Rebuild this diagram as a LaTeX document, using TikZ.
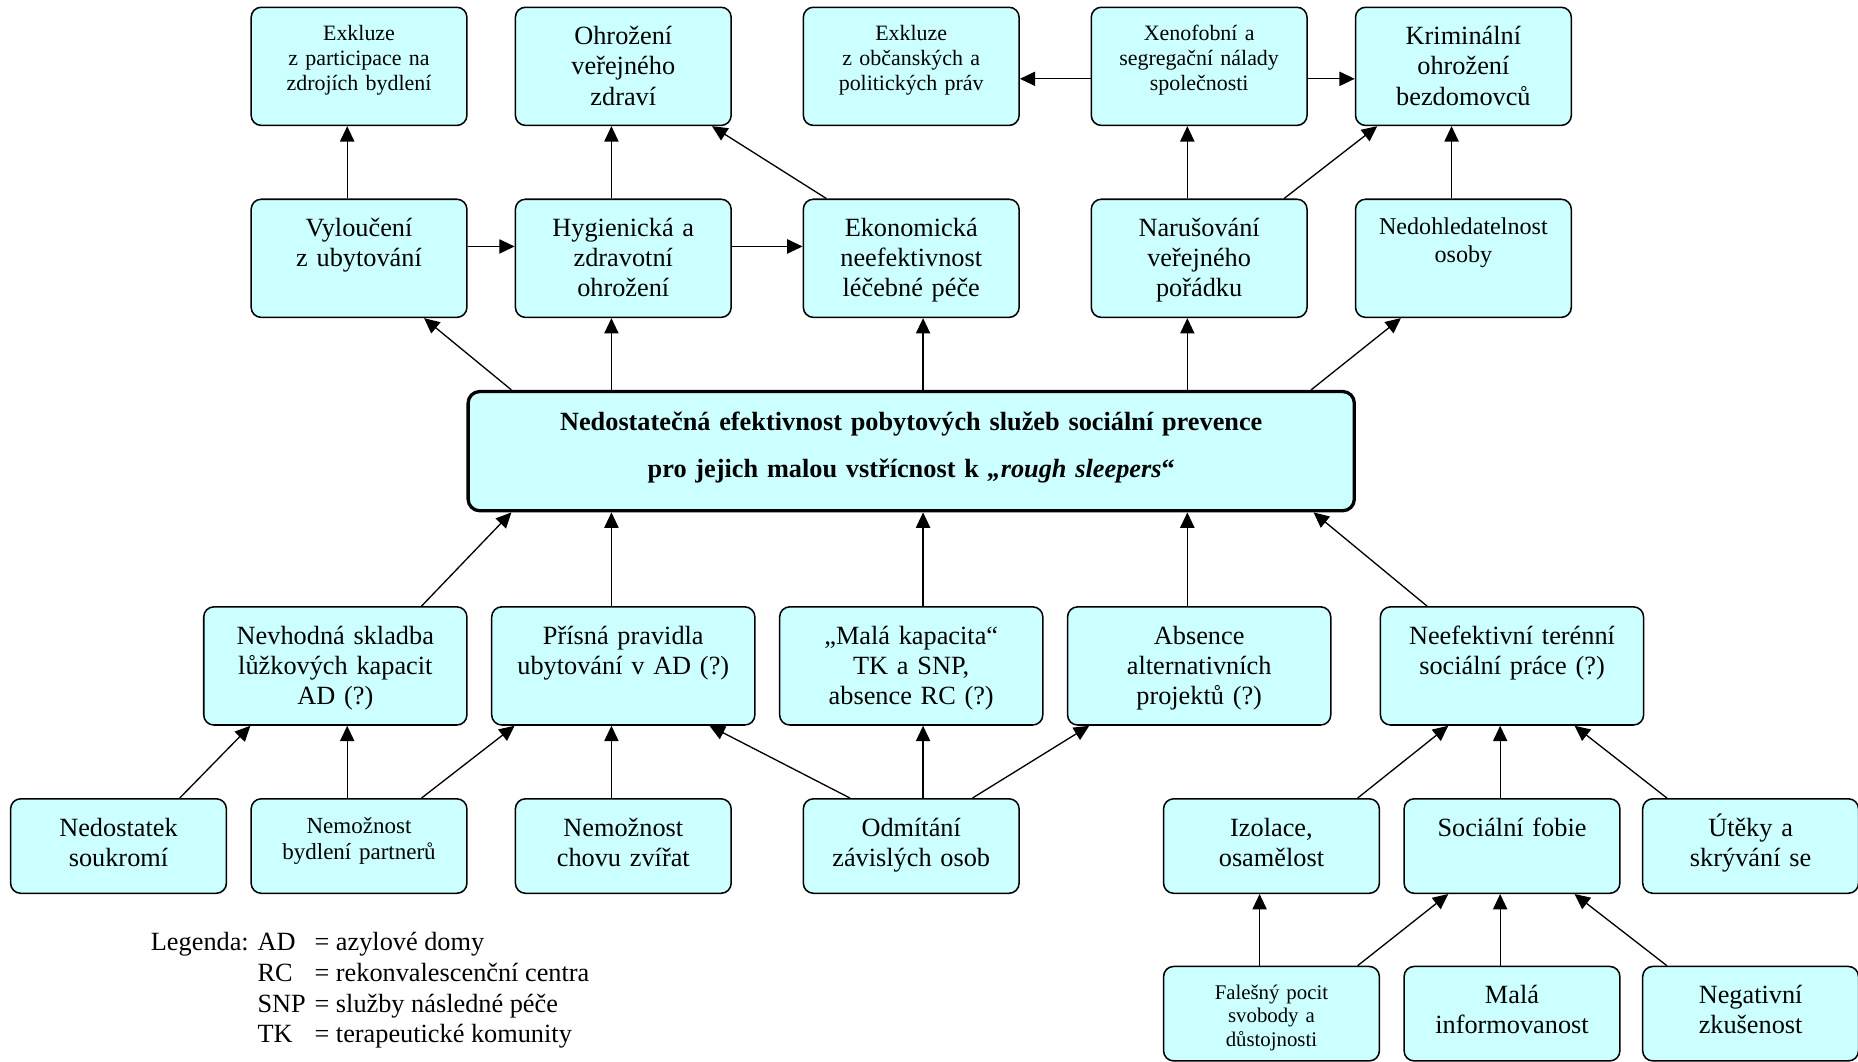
\documentclass[tikz,border=0pt]{standalone}
\usepackage{fontspec}
\setmainfont{Liberation Serif}
\usepackage{tikz}
\usetikzlibrary{arrows.meta}
\definecolor{ptcyan}{HTML}{CCFFFF}
\tikzset{
    ptbox/.style={draw, line width=0.7pt, rounded corners=4.6pt, fill=ptcyan, text width=3.3cm, inner xsep=0.08cm, inner ysep=0pt, align=center, font=\fontsize{12}{13.8}\selectfont, text height=17pt, text depth=36.9pt},
    ptwide/.style={ptbox, text width=4.06cm},
    ptlow/.style={ptbox, text depth=26.1pt},
    ptsmall/.style={font=\fontsize{10}{11.4}\selectfont, text height=15pt, text depth=38.9pt},
    ptcore/.style={draw, line width=1.5pt, rounded corners=5.3pt, fill=ptcyan, text width=14.05cm, inner xsep=0.08cm, inner ysep=0pt, align=center, font=\fontsize{12}{13.8}\selectfont\bfseries, text height=18pt, text depth=36.4pt},
    ptarrow/.style={-{Triangle[length=7pt, width=6.5pt]}, line width=0.6pt},
    ptlegend/.style={anchor=base west, inner sep=0pt, font=\fontsize{12}{14}\selectfont},
}

\begin{document}
\begin{tikzpicture}
        \useasboundingbox (0,0) rectangle (29.792,17.024);
        \node[ptbox, ptsmall] (exbyd) at (5.757,15.96) {Exkluze\\ z participace na\\ zdrojích bydlení};
        \node[ptbox] (ohr) at (9.994,15.96) {Ohrožení\\ veřejného\\ zdraví};
        \node[ptbox, ptsmall] (exprav) at (14.611,15.96) {Exkluze\\ z občanských a\\ politických práv};
        \node[ptbox, ptsmall] (xeno) at (19.228,15.96) {Xenofobní a\\ segregační nálady\\ společnosti};
        \node[ptbox] (krim) at (23.465,15.96) {Kriminální\\ ohrožení\\ bezdomovců};
        \node[ptbox] (vyl) at (5.757,12.882) {Vyloučení\\ z ubytování};
        \node[ptbox] (hyg) at (9.994,12.882) {Hygienická a\\ zdravotní\\ ohrožení};
        \node[ptbox] (ekon) at (14.611,12.882) {Ekonomická\\ neefektivnost\\ léčebné péče};
        \node[ptbox] (nar) at (19.228,12.882) {Narušování\\ veřejného\\ pořádku};
        \node[ptbox, font=\fontsize{11}{12.4}\selectfont, text height=16.3pt, text depth=37.6pt] (nedoh) at (23.465,12.882) {Nedohledatelnost\\ osoby};
        \node[ptcore] (prob) at (14.611,9.79) {Nedostatečná efektivnost pobytových služeb sociální prevence\\[7.3pt] pro jejich malou vstřícnost k \textit{„rough sleepers}“};
        \node[ptwide] (sklad) at (5.377,6.346) {Nevhodná skladba\\ lůžkových kapacit\\ AD (?)};
        \node[ptwide] (prav) at (9.994,6.346) {Přísná pravidla\\ ubytování v AD (?)};
        \node[ptwide] (kap) at (14.611,6.346) {„Malá kapacita“\\ TK a SNP,\\ absence RC (?)};
        \node[ptwide] (alt) at (19.228,6.346) {Absence\\ alternativních\\ projektů (?)};
        \node[ptwide] (ter) at (24.244,6.346) {Neefektivní terénní\\ sociální práce (?)};
        \node[ptlow] (souk) at (1.9,3.458) {Nedostatek\\ soukromí};
        \node[ptlow, font=\fontsize{10.5}{12.2}\selectfont, text height=15.7pt, text depth=27.4pt] (part) at (5.757,3.458) {Nemožnost\\ bydlení partnerů};
        \node[ptlow] (zvir) at (9.994,3.458) {Nemožnost\\ chovu zvířat};
        \node[ptlow] (zavis) at (14.611,3.458) {Odmítání\\ závislých osob};
        \node[ptlow] (izol) at (20.387,3.458) {Izolace,\\ osamělost};
        \node[ptlow] (fob) at (24.244,3.458) {Sociální fobie};
        \node[ptlow] (utek) at (28.07,3.458) {Útěky a\\ skrývání se};
        \node[ptlow, font=\fontsize{9.5}{10.8}\selectfont, text height=14.9pt, text depth=28.2pt] (pocit) at (20.387,0.77) {Falešný pocit\\ svobody a\\ důstojnosti};
        \node[ptlow] (info) at (24.244,0.77) {Malá\\ informovanost};
        \node[ptlow] (zkus) at (28.07,0.77) {Negativní\\ zkušenost};
        \node[ptlegend] (leg) at (2.413,1.777) {\begin{tabular}[t]{@{}l@{\hspace{4pt}}l@{\hspace{4pt}}l@{}}Legenda: & AD & = azylové domy\\ & RC & = rekonvalescenční centra\\ & SNP & = služby následné péče\\ & TK & = terapeutické komunity\end{tabular}};
        \draw[ptarrow] ([xshift=-1.9mm]vyl.north) -- ([xshift=-1.9mm]exbyd.south);
        \draw[ptarrow] ([xshift=-1.9mm]hyg.north) -- ([xshift=-1.9mm]ohr.south);
        \draw[ptarrow] ([xshift=3.8mm]ekon.north west) -- ([xshift=-3.2mm]ohr.south east);
        \draw[ptarrow] ([yshift=1.9mm]vyl.east) -- ([yshift=1.9mm]hyg.west);
        \draw[ptarrow] ([yshift=1.9mm]hyg.east) -- ([yshift=1.9mm]ekon.west);
        \draw[ptarrow] ([yshift=-2mm]xeno.west) -- ([yshift=-2mm]exprav.east);
        \draw[ptarrow] ([yshift=-2mm]xeno.east) -- ([yshift=-2mm]krim.west);
        \draw[ptarrow] ([xshift=-1.9mm]nar.north) -- ([xshift=-1.9mm]xeno.south);
        \draw[ptarrow] ([xshift=-3.8mm]nar.north east) -- ([xshift=3.6mm]krim.south west);
        \draw[ptarrow] ([xshift=-1.9mm]nedoh.north) -- ([xshift=-1.9mm]krim.south);
        \draw[ptarrow] ([xshift=7.2mm]prob.north west) -- ([xshift=-7mm]vyl.south east);
        \draw[ptarrow] ([xshift=-1.9mm]hyg.south |- prob.north) -- ([xshift=-1.9mm]hyg.south);
        \draw[ptarrow] ([xshift=1.9mm]ekon.south |- prob.north) -- ([xshift=1.9mm]ekon.south);
        \draw[ptarrow] ([xshift=-1.9mm]nar.south |- prob.north) -- ([xshift=-1.9mm]nar.south);
        \draw[ptarrow] ([xshift=-7.2mm]prob.north east) -- ([xshift=7.4mm]nedoh.south west);
        \draw[ptarrow] ([xshift=-7.4mm]sklad.north east) -- ([xshift=7.2mm]prob.south west);
        \draw[ptarrow] ([xshift=-1.9mm]prav.north) -- ([xshift=-1.9mm]prav.north |- prob.south);
        \draw[ptarrow] ([xshift=1.9mm]kap.north) -- ([xshift=1.9mm]kap.north |- prob.south);
        \draw[ptarrow] ([xshift=-1.9mm]alt.north) -- ([xshift=-1.9mm]alt.north |- prob.south);
        \draw[ptarrow] ([xshift=7.6mm]ter.north west) -- ([xshift=-6.8mm]prob.south east);
        \draw[ptarrow] ([xshift=-7.6mm]souk.north east) -- ([xshift=7.6mm]sklad.south west);
        \draw[ptarrow] ([xshift=-1.9mm]part.north) -- ([xshift=-1.9mm]part.north |- sklad.south);
        \draw[ptarrow] ([xshift=-7.4mm]part.north east) -- ([xshift=3.8mm]prav.south west);
        \draw[ptarrow] ([xshift=-1.9mm]zvir.north) -- ([xshift=-1.9mm]prav.south);
        \draw[ptarrow] ([xshift=7.6mm]zavis.north west) -- ([xshift=-7.4mm]prav.south east);
        \draw[ptarrow] ([xshift=1.9mm]zavis.north) -- ([xshift=1.9mm]kap.south);
        \draw[ptarrow] ([xshift=-7.6mm]zavis.north east) -- ([xshift=3.6mm]alt.south west);
        \draw[ptarrow] ([xshift=-3.6mm]izol.north east) -- ([xshift=11mm]ter.south west);
        \draw[ptarrow] ([xshift=-1.9mm]fob.north) -- ([xshift=-1.9mm]ter.south);
        \draw[ptarrow] ([xshift=4mm]utek.north west) -- ([xshift=-11.2mm]ter.south east);
        \draw[ptarrow] ([xshift=-1.9mm]pocit.north) -- ([xshift=-1.9mm]izol.south);
        \draw[ptarrow] ([xshift=-3.6mm]pocit.north east) -- ([xshift=7.2mm]fob.south west);
        \draw[ptarrow] ([xshift=-1.9mm]info.north) -- ([xshift=-1.9mm]fob.south);
        \draw[ptarrow] ([xshift=4mm]zkus.north west) -- ([xshift=-7.4mm]fob.south east);
    \end{tikzpicture}
\end{document}
